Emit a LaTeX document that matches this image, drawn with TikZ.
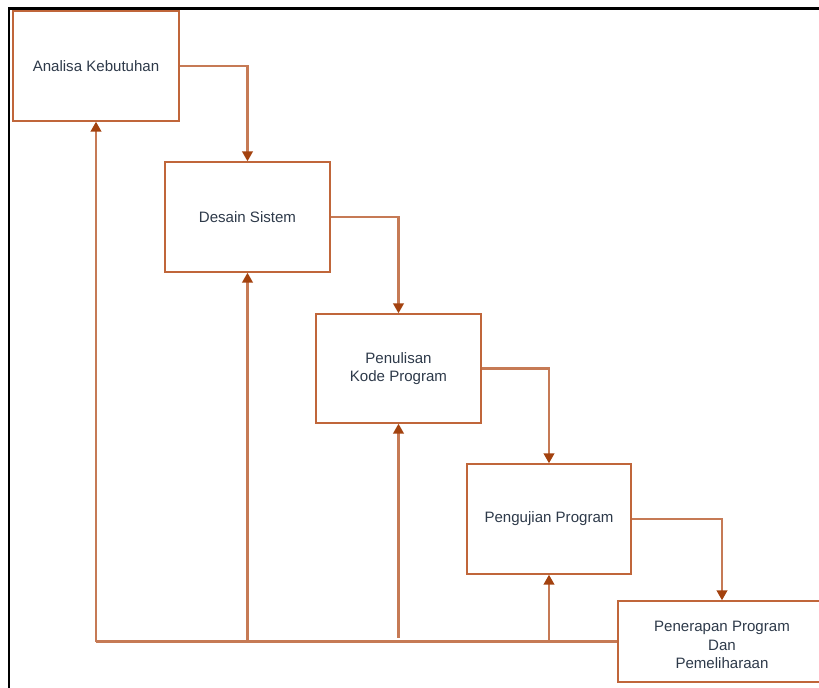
\documentclass[tikz,border=0pt]{standalone}
\usepackage{fontspec}
\setmainfont{Liberation Sans}
\usetikzlibrary{arrows.meta}
\definecolor{boxline}{HTML}{C0663A}
\definecolor{conline}{HTML}{C67A55}
\definecolor{tipcol}{HTML}{A3420F}
\definecolor{txt}{HTML}{2E3A4A}
\begin{document}
\begin{tikzpicture}[x=0.75pt,y=-0.75pt,
  stepbox/.style={draw=boxline,line width=1.1pt,fill=white,align=center,
    font=\fontsize{11.3}{14}\selectfont,text=txt,inner sep=0pt},
  steptext/.style={align=center,font=\fontsize{11.3}{14}\selectfont,text=txt,inner sep=0pt},
  con/.style={draw=conline,line width=1.6pt},
  arr/.style={con,-{Triangle[width=8pt,length=7.5pt,color=tipcol]}}]
\useasboundingbox (0,0) rectangle (819,688);
\clip (0,0) rectangle (819,688);
\draw[black,line width=1.6pt] (9,690) -- (9,8.5) -- (822,8.5);
\node[stepbox,minimum width=124.5pt,minimum height=82.5pt] (b1) at (96,66) {Analisa Kebutuhan};
\node[stepbox,minimum width=123.75pt,minimum height=82.5pt] (b2) at (247.5,217) {Desain Sistem};
\node[stepbox,minimum width=123.75pt,minimum height=81.75pt] (b3) at (398.5,368.5) {Penulisan\\Kode Program};
\node[stepbox,minimum width=123pt,minimum height=82.5pt] (b4) at (549,519) {Pengujian Program};
\node[stepbox,minimum width=156pt,minimum height=60.75pt] (b5) at (722,641.5) {};
\node[steptext] (b5t) at (722,645) {Penerapan Program\\Dan\\Pemeliharaan};
\draw[arr] (b1.east) -| (b2.north);
\draw[arr] (b2.east) -| (b3.north);
\draw[arr] (b3.east) -| (b4.north);
\draw[arr] (b4.east) -| (b5.north);
\coordinate (c1) at (b1.south |- b5.west);
\coordinate (c2) at (b2.south |- b5.west);
\coordinate (c3) at (398.5,637.5);
\coordinate (c4) at (b4.south |- b5.west);
\draw[con] (b5.west) -- (c1);
\draw[arr] (c1) -- (b1.south);
\draw[arr] (c2) -- (b2.south);
\draw[arr] (c3) -- (b3.south);
\draw[arr] (c4) -- (b4.south);
\end{tikzpicture}
\end{document}
